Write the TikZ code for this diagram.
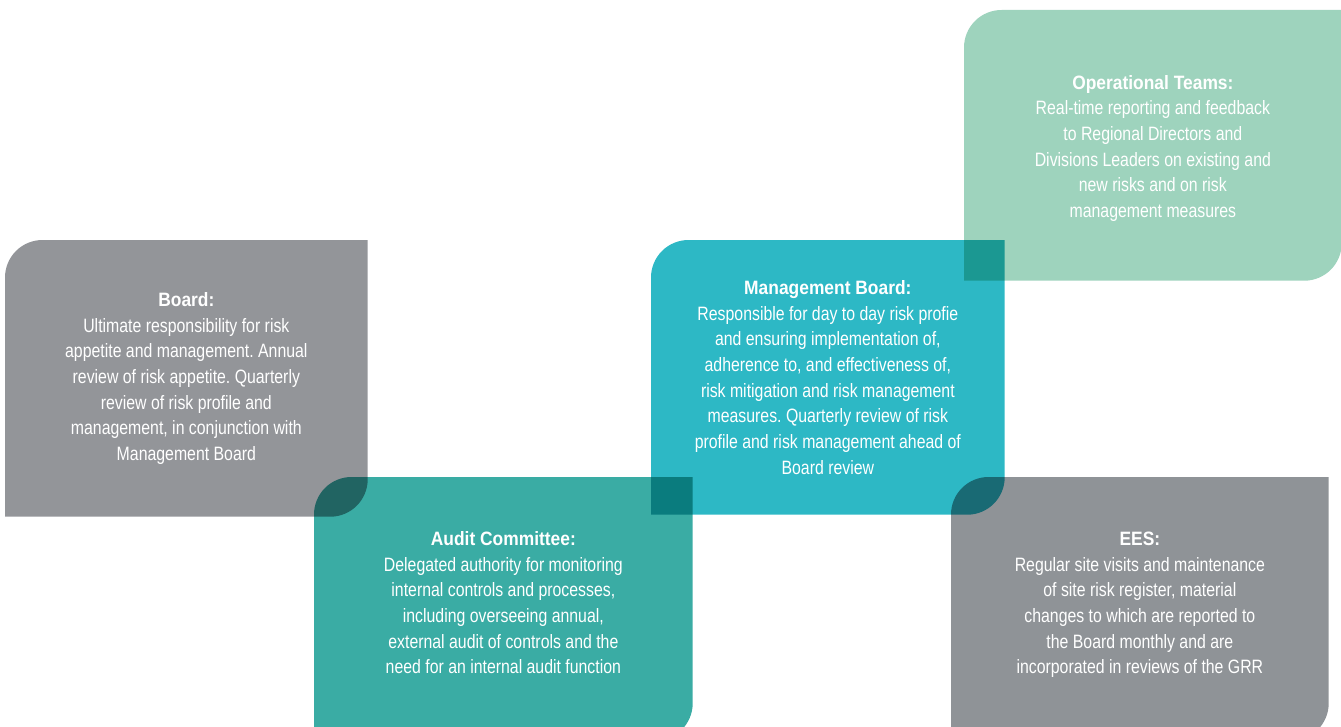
\documentclass[tikz,border=0pt]{standalone}
\usepackage{fontspec}
\setmainfont{Liberation Sans}[FakeStretch=0.82,BoldFeatures={FakeStretch=0.9}]
\frenchspacing
\usepackage{tikz}
\usetikzlibrary{backgrounds}
\definecolor{boardgrey}{HTML}{939599}
\definecolor{eesgrey}{HTML}{8F9397}
\definecolor{auditteal}{HTML}{3AACA4}
\definecolor{mgmtcyan}{HTML}{2DB8C5}
\definecolor{opsgreen}{HTML}{9ED3BD}
\tikzset{
  stage/.style={anchor=north west,align=center,text=white,
                font=\fontsize{11}{14.6}\selectfont,inner sep=0pt},
}
% leaf-shaped panel behind a node: rounded top-left and bottom-right,
% optional argument lets the bottom run further down
\newcommand\leafbox[3][0cm]{%
  \fill[#3] (#2.north east) -- ([yshift=0.75cm-#1]#2.south east)
    arc[start angle=0,end angle=-90,radius=0.75cm]
    -- ([yshift=-#1]#2.south west)
    -- ([yshift=-0.75cm]#2.north west)
    arc[start angle=180,end angle=90,radius=0.75cm] -- cycle;}

\begin{document}
\begin{tikzpicture}
  \useasboundingbox (0,0) rectangle (26.82,-14.52);
  \clip (0,0) rectangle (26.82,-14.52);
  \node[stage,minimum width=7.24cm,minimum height=5.52cm]
    (board)at(0.10,-4.80){\textbf{Board:}\\
      Ultimate responsibility for risk\\
      appetite and management. Annual\\
      review of risk appetite. Quarterly\\
      review of risk profile and\\
      management, in conjunction with\\
      Management Board};
  \node[stage,minimum width=7.56cm,minimum height=5.02cm]
    (audit)at(6.28,-9.54){\textbf{Audit Committee:}\\
      Delegated authority for monitoring\\
      internal controls and processes,\\
      including overseeing annual,\\
      external audit of controls and the\\
      need for an internal audit function};
  \node[stage,minimum width=7.06cm,minimum height=5.48cm]
    (mgmt)at(13.02,-4.80){\textbf{Management Board:}\\
      Responsible for day to day risk profie\\
      and ensuring implementation of,\\
      adherence to, and effectiveness of,\\
      risk mitigation and risk management\\
      measures. Quarterly review of risk\\
      profile and risk management ahead of\\
      Board review};
  \node[stage,minimum width=7.54cm,minimum height=5.52cm]
    (ops)at(19.28,-0.20){\textbf{Operational Teams:}\\
      Real-time reporting and feedback\\
      to Regional Directors and\\
      Divisions Leaders on existing and\\
      new risks and on risk\\
      management measures};
  \node[stage,minimum width=7.54cm,minimum height=5.10cm]
    (ees)at(19.02,-9.54){\textbf{EES:}\\
      Regular site visits and maintenance\\
      of site risk register, material\\
      changes to which are reported to\\
      the Board monthly and are\\
      incorporated in reviews of the GRR};
  % panels multiply where they overlap
  \begin{pgfonlayer}{background}
    \begin{scope}[blend mode=multiply]
      \leafbox{board}{boardgrey}
      \leafbox[0.24cm]{audit}{auditteal}
      \leafbox{mgmt}{mgmtcyan}
      \leafbox[-0.12cm]{ops}{opsgreen}
      \leafbox[0.16cm]{ees}{eesgrey}
    \end{scope}
  \end{pgfonlayer}
\end{tikzpicture}
\end{document}
